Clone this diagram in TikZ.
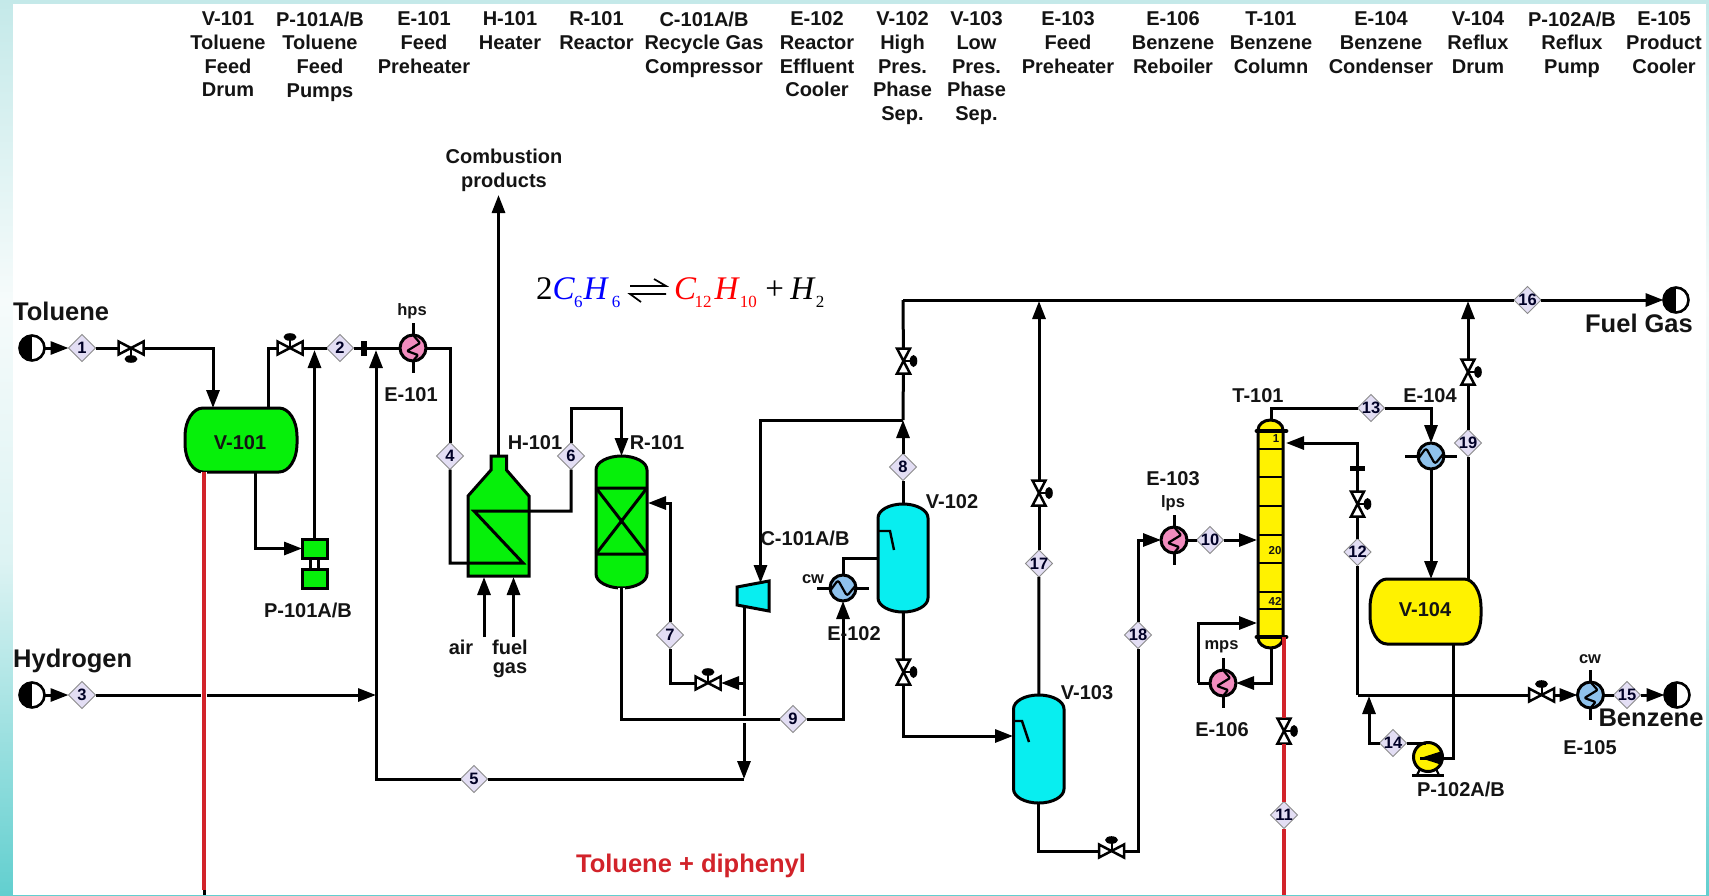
\documentclass[tikz,border=0pt]{standalone}
\usepackage{fontspec}
\setmainfont{Liberation Sans}
\newfontfamily\eqfont{Liberation Serif}
\usetikzlibrary{arrows.meta,shapes.geometric,calc}
\definecolor{txt}{HTML}{141414}
\definecolor{pgreen}{HTML}{06F00A}
\definecolor{pcyan}{HTML}{08EEF0}
\definecolor{pyellow}{HTML}{FFF200}
\definecolor{ppink}{HTML}{F28CBE}
\definecolor{pblue}{HTML}{8FC2EC}
\definecolor{hotred}{HTML}{D2232A}
\definecolor{dia}{HTML}{E3DEF4}
\definecolor{tealA}{HTML}{C4E9E9}
\definecolor{tealB}{HTML}{F6FBFB}
\definecolor{tealC}{HTML}{DDF3F3}
\definecolor{tealD}{HTML}{62CFCF}
\tikzset{
  pipe/.style={line width=3pt,line join=miter},
  flow/.style={pipe,-{Triangle[length=18pt,width=13pt]}},
  hotpipe/.style={line width=3.4pt,draw=hotred},
  equip/.style={line width=3pt,draw=black},
  hit/.style={inner sep=0pt,outer sep=0pt,rectangle},
  stream/.style={diamond,aspect=1,inner sep=0pt,outer sep=0pt,minimum width=27pt,minimum height=27pt,draw=black!45,line width=1pt,fill=dia},
  streamtxt/.style={inner sep=0pt,font=\fontsize{16.5}{16.5}\selectfont\bfseries,text=black!85!blue},
  lab/.style={inner sep=0pt,font=\fontsize{20}{23.7}\selectfont\bfseries,text=txt,align=center},
  biglab/.style={inner sep=0pt,font=\fontsize{25.5}{26}\selectfont\bfseries,text=txt},
  smalllab/.style={inner sep=0pt,font=\fontsize{16.5}{18}\selectfont\bfseries,text=txt},
  trays/.style={inner sep=0pt,font=\fontsize{11.5}{12}\selectfont\bfseries,text=txt},
  headlab/.style={lab,anchor=north},
  exch/.style={circle,inner sep=0pt,outer sep=0pt,minimum size=26pt,draw=black,line width=3pt},
  terminal/.style={circle,inner sep=0pt,outer sep=0pt,minimum size=25pt,draw=black,line width=2.6pt,fill=white,
    path picture={\fill[black] (path picture bounding box.south west) rectangle (path picture bounding box.north);}},
  wig/.style={line width=2.2pt,line join=round,rounded corners=1pt}
}
% vessel with elliptical heads: name, fill, L,T,R,B, a,b
\newcommand\PFDvessel[8]{%
 \draw[equip,fill=#2] ({#3+#7},#4) -- ({#5-#7},#4) .. controls ({#5-0.45*#7},#4) and (#5,{#4+0.45*#8}) .. (#5,{#4+#8}) -- (#5,{#6-#8}) .. controls (#5,{#6-0.45*#8}) and ({#5-0.45*#7},#6) .. ({#5-#7},#6) -- ({#3+#7},#6) .. controls ({#3+0.45*#7},#6) and (#3,{#6-0.45*#8}) .. (#3,{#6-#8}) -- (#3,{#4+#8}) .. controls (#3,{#4+0.45*#8}) and ({#3+0.45*#7},#4) .. ({#3+#7},#4) -- cycle;
 \node[hit,minimum width={(#5-#3)*1pt},minimum height={(#6-#4)*1pt}] (#1) at ({(#3+#5)/2},{(#4+#6)/2}) {};
}
% horizontal valve: name,x,y,dir (-1 actuator up, 1 actuator down)
\newcommand\PFDhvalve[4]{%
 \draw[line width=2.5pt,fill=white,line join=miter] ({#2-12.5},{#3-6.5}) -- ({#2+12.5},{#3+6.5}) -- ({#2+12.5},{#3-6.5}) -- ({#2-12.5},{#3+6.5}) -- cycle;
 \draw[line width=2pt] (#2,#3) -- (#2,{#3+#4*9});
 \fill[black] (#2,{#3+#4*11}) ellipse (6.5pt and 3.8pt);
 \node[hit,minimum width=26pt,minimum height=14pt] (#1) at (#2,#3) {};
}
% vertical valve, actuator to the right
\newcommand\PFDvvalve[3]{%
 \draw[line width=2.5pt,fill=white,line join=miter] ({#2-6.5},{#3-12.5}) -- ({#2+6.5},{#3+12.5}) -- ({#2-6.5},{#3+12.5}) -- ({#2+6.5},{#3-12.5}) -- cycle;
 \draw[line width=2pt] (#2,#3) -- ({#2+8},#3);
 \fill[black] ({#2+10},#3) ellipse (3.8pt and 6pt);
 \node[hit,minimum width=14pt,minimum height=26pt] (#1) at (#2,#3) {};
}
% exchanger with vertical stick: name,x,y,colour
\newcommand\PFDexV[4]{%
 \draw[pipe] (#2,{#3-25}) -- (#2,{#3+25});
 \node[exch,fill=#4] (#1) at (#2,#3) {};
 \draw[wig] (#2,{#3-13}) -- ({#2+7},{#3-5}) -- ({#2-6},{#3+3}) -- ({#2+5},{#3+7}) -- (#2,{#3+13});
}
% exchanger with horizontal stick
\newcommand\PFDexH[4]{%
 \draw[pipe] ({#2-26},#3) -- ({#2+26},#3);
 \node[exch,fill=#4] (#1) at (#2,#3) {};
 \draw[wig,rounded corners=2.5pt] ({#2-13},{#3+3}) -- ({#2-5},{#3-8}) -- ({#2+4},{#3+8}) -- ({#2+13},{#3-3});
}
\newcommand\PFDs[4]{%
 \node[stream] (#1) at (#2,#3) {};
 \node[streamtxt] (#1t) at (#1.center) {#4};
}
\newcommand\subd[1]{\raisebox{-8pt}{\fontsize{17}{17}\selectfont #1}}
\begin{document}
\begin{tikzpicture}[x=1pt,y=-1pt]
\useasboundingbox (0,0) rectangle (1709,895);
% page background
\shade[top color=tealA,bottom color=tealB,draw=none] (0,0) rectangle (1709,300);
\shade[top color=tealB,bottom color=tealC,draw=none] (0,300) rectangle (1709,560);
\shade[top color=tealC,bottom color=tealD,draw=none] (0,560) rectangle (1709,895);
\fill[white] (13,4) rectangle (1706,895);

% header
\node[headlab] (h1) at (228,11.5) {V-101\\Toluene\\Feed\\Drum};
\node[headlab] (h2) at (320,11.5) {P-101A/B\\Toluene\\Feed\\Pumps};
\node[headlab] (h3) at (424,11.5) {E-101\\Feed\\Preheater};
\node[headlab] (h4) at (510,11.5) {H-101\\Heater};
\node[headlab] (h5) at (596.5,11.5) {R-101\\Reactor};
\node[headlab] (h6) at (704,11.5) {C-101A/B\\Recycle Gas\\Compressor};
\node[headlab] (h7) at (817,11.5) {E-102\\Reactor\\Effluent\\Cooler};
\node[headlab] (h8) at (902.5,11.5) {V-102\\High\\Pres.\\Phase\\Sep.};
\node[headlab] (h9) at (976.5,11.5) {V-103\\Low\\Pres.\\Phase\\Sep.};
\node[headlab] (h10) at (1068,11.5) {E-103\\Feed\\Preheater};
\node[headlab] (h11) at (1173,11.5) {E-106\\Benzene\\Reboiler};
\node[headlab] (h12) at (1271,11.5) {T-101\\Benzene\\Column};
\node[headlab] (h13) at (1381,11.5) {E-104\\Benzene\\Condenser};
\node[headlab] (h14) at (1478,11.5) {V-104\\Reflux\\Drum};
\node[headlab] (h15) at (1572,11.5) {P-102A/B\\Reflux\\Pump};
\node[headlab] (h16) at (1664,11.5) {E-105\\Product\\Cooler};

% equation
\node[inner sep=0pt,anchor=base west] (eqL) at (536,299) {\eqfont\fontsize{33}{33}\selectfont 2\textcolor{blue}{\textit{C}\kern-1pt\subd{6}\kern1pt\textit{H}\kern3pt\subd{6}}};
\draw[line width=1.7pt] (630,286) -- (666,286) -- (654,279);
\draw[line width=1.7pt] (666,294) -- (630,294) -- (641,302);
\node[inner sep=0pt,anchor=base west] (eqR) at (674,299) {\eqfont\fontsize{33}{33}\selectfont\textcolor{red}{\textit{C}\kern-2pt\subd{12}\kern3pt\textit{H}\subd{10}}\kern8.5pt +\kern6.5pt\textit{H}\kern0pt\subd{2}};

% terminals and stream diamonds
\node[terminal] (src1) at (32,348) {};
\node[terminal] (src3) at (32,695) {};
\node[terminal] (snk16) at (1676,300) {};
\node[terminal] (snk15) at (1677,695) {};
\PFDs{s1}{82}{348}{1}
\PFDs{s2}{340}{348}{2}
\PFDs{s3}{82}{695}{3}
\PFDs{s4}{450}{456}{4}
\PFDs{s5}{474}{779}{5}
\PFDs{s6}{571}{456}{6}
\PFDs{s7}{670}{635}{7}
\PFDs{s8}{903}{467}{8}
\PFDs{s9}{793}{719}{9}
\PFDs{s10}{1210}{540}{10}
\PFDs{s11}{1284}{815}{11}
\PFDs{s12}{1357.5}{552}{12}
\PFDs{s13}{1371}{408}{13}
\PFDs{s14}{1393}{743}{14}
\PFDs{s15}{1627}{695}{15}
\PFDs{s16}{1527.5}{300}{16}
\PFDs{s17}{1039}{563.5}{17}
\PFDs{s18}{1138}{635}{18}
\PFDs{s19}{1468}{443}{19}

% vessels
\PFDvessel{v101}{pgreen}{185}{408}{297}{472}{18}{28}
\PFDvessel{r101}{pgreen}{596}{456}{647}{588}{25.5}{14}
\PFDvessel{v102}{pcyan}{878}{504}{928}{612}{25}{14}
\PFDvessel{v103}{pcyan}{1013.5}{695}{1064}{803}{25}{14}
\PFDvessel{v104}{pyellow}{1370}{579}{1481}{644}{17}{28}
\PFDvessel{t101}{pyellow}{1258}{420}{1283}{648}{12.5}{10}

% reactor packing
\draw[equip] (596,488) -- (647,488) (596,554) -- (647,554) (596,488) -- (647,554) (647,488) -- (596,554);
% column trays
\draw[line width=2.4pt] (1258,449) -- (1283,449) (1258,477) -- (1283,477) (1258,506) -- (1283,506) (1258,535) -- (1283,535) (1258,563) -- (1283,563) (1258,592) -- (1283,592) (1258,609) -- (1283,609);
\draw[line width=4.8pt,line cap=round] (1257,431) -- (1286,431) (1257,637) -- (1286,637);
\node[trays] (tr1) at (1276,439) {1};
\node[trays] (tr20) at (1275,551) {20};
\node[trays] (tr42) at (1275,601) {42};
% inlet baffles
\draw[line width=2.4pt] (878,531) -- (890,531) -- (894,550);
\draw[line width=2.4pt] (1013.5,721) -- (1022,721) -- (1029,742);

% heater
\draw[equip,fill=pgreen] (468,576) -- (468,496) -- (491,470) -- (491,456) -- (506.5,456) -- (506.5,470) -- (529,496) -- (529,576) -- cycle;
\node[hit,minimum width=61pt,minimum height=120pt] (h101) at (498.5,516) {};

% compressor
\draw[equip,fill=pcyan] (737,587) -- (769,581) -- (769,611) -- (737,605) -- cycle;
\node[hit,minimum width=32pt,minimum height=30pt] (c101) at (753,596) {};

% feed pumps
\draw[line width=2.2pt] (310.5,558) -- (310.5,569) (318.5,558) -- (318.5,569);
\node[hit,draw=black,line width=3pt,fill=pgreen,minimum width=25pt,minimum height=19pt] (p101a) at (314.5,548.5) {};
\node[hit,draw=black,line width=3pt,fill=pgreen,minimum width=25pt,minimum height=19pt] (p101b) at (314.5,578.5) {};

% reflux pump
\draw[line width=3pt] (1412,775) -- (1444,775);
\draw[line width=2.2pt] (1417,775) -- (1420,769) (1439,775) -- (1436,769);
\node[circle,inner sep=0pt,outer sep=0pt,minimum size=29pt,draw=black,line width=3pt,fill=pyellow] (p102) at (1428,757) {};

% exchangers
\PFDexV{e101}{413}{348}{ppink}
\PFDexH{e102}{843}{588}{pblue}
\PFDexV{e103}{1174}{540}{ppink}
\PFDexH{e104}{1431}{456}{pblue}
\PFDexV{e105}{1590.5}{695}{pblue}
\PFDexV{e106}{1223}{683}{ppink}

% valves
\PFDhvalve{va1}{131}{348}{1}
\PFDhvalve{va2}{290}{348}{-1}
\PFDhvalve{va3}{708}{683}{-1}
\PFDhvalve{va4}{1111.5}{851}{-1}
\PFDhvalve{va5}{1541.5}{695}{-1}
\PFDvvalve{vb1}{903.5}{361}
\PFDvvalve{vb2}{903.5}{672}
\PFDvvalve{vb3}{1039}{493}
\PFDvvalve{vb4}{1468}{372}
\PFDvvalve{vb5}{1357.5}{504}
\PFDvvalve{vb6}{1284}{731}

% flanges
\node[hit,fill=black,minimum width=6pt,minimum height=15pt] (fl1) at (364,348) {};
\node[hit,fill=black,minimum width=15pt,minimum height=5pt] (fl2) at (1357.5,468) {};

% connector end points
\coordinate (vin) at (213,408);
\coordinate (vout) at (268,408);
\coordinate (vlow) at (255,472);
\coordinate (j1top) at (314.5,350);
\coordinate (j2top) at (376,350);
\coordinate (j2mid) at (376,695);
\coordinate (j5) at (744,779);
\coordinate (cdis) at (744,606);
\coordinate (j7) at (744,683);
\coordinate (coilA) at (523,563);
\coordinate (coilB) at (474,511);
\coordinate (stackb) at (498.5,456);
\coordinate (stackt) at (498.5,195);
\coordinate (airb) at (484,637);
\coordinate (airt) at (484,577);
\coordinate (fuelb) at (513.5,637);
\coordinate (fuelt) at (513.5,577);
\coordinate (rtop) at (621.5,408);
\coordinate (rin) at (648,503);
\coordinate (j8) at (903,420);
\coordinate (cin) at (760.5,583);
\coordinate (j9) at (903,300);
\coordinate (v102in) at (878,558);
\coordinate (v103in) at (1013,736);
\coordinate (top17) at (1039,301);
\coordinate (top19) at (1468,301);
\coordinate (v103out) at (1038.5,803);
\coordinate (t10) at (1257,540);
\coordinate (ttop) at (1271,420);
\coordinate (tbot) at (1271.6,648);
\coordinate (v104in) at (1431,579);
\coordinate (v104top) at (1468,579);
\coordinate (v104bot) at (1453.4,644);
\coordinate (pwedge) at (1420,758);
\coordinate (ptop) at (1426,743);
\coordinate (j14) at (1369,696);
\coordinate (j12) at (1357.5,695);
\coordinate (t12) at (1286,443);
\coordinate (rb1) at (1198,683);
\coordinate (rb2) at (1257,623);
\coordinate (redT) at (1284,637);
\coordinate (redB) at (1284,895);
\coordinate (redL) at (204,472);
\coordinate (redLB) at (204,890);
\coordinate (redLE) at (204,895);

% connectors
\draw[flow] (src1) -- (s1);
\draw[pipe] (s1) -- (va1);
\draw[flow] (va1) -| (vin);
\draw[pipe] (vout) |- (va2);
\draw[pipe] (va2) -- (s2);
\draw[pipe] (s2) -- (fl1);
\draw[pipe] (fl1) -- (e101);
\draw[flow] (vlow) |- (p101a);
\draw[flow] (p101a) -- (j1top);
\draw[flow] (src3) -- (s3);
\draw[flow] (s3) -- (j2mid);
\draw[flow] (s5) -| (j2top);
\draw[flow] (cdis) -- (j5);
\draw[flow] (j7) -- (va3);
\draw[pipe] (j5) -- (s5);
\draw[pipe] (e101) -| (s4);
\draw[pipe] (s4) |- (coilA) -- (coilB) -| (s6);
\draw[flow] (s6) |- (rtop) -- (r101.north);
\draw[flow] (stackb) -- (stackt);
\draw[flow] (airb) -- (airt);
\draw[flow] (fuelb) -- (fuelt);
\draw[pipe] (va3) -| (s7);
\draw[flow] (s7) |- (rin);
\draw[pipe,preaction={draw=white,line width=7pt}] (r101.south) |- (s9);
\draw[flow] (s9) -| (e102);
\draw[pipe] (e102) |- (v102in);
\draw[pipe] (v102) -- (s8);
\draw[flow] (s8) -- (j8);
\draw[pipe] (j8) -- (vb1);
\draw[flow] (j8) -| (cin);
\draw[pipe] (vb1) -- (j9);
\draw[pipe] (j9) -- (s16);
\draw[flow] (s16) -- (snk16);
\draw[pipe] (v102) -- (vb2);
\draw[flow] (vb2) |- (v103in);
\draw[pipe] (v103) -- (s17);
\draw[pipe] (s17) -- (vb3);
\draw[flow] (vb3) -- (top17);
\draw[pipe] (v103out) |- (va4);
\draw[pipe] (va4) -| (s18);
\draw[flow] (s18) |- (e103);
\draw[pipe] (e103) -- (s10);
\draw[flow] (s10) -- (t10);
\draw[pipe] (ttop) |- (s13);
\draw[flow] (s13) -| (e104);
\draw[flow] (e104) -- (v104in);
\draw[pipe] (v104top) -- (s19);
\draw[pipe] (s19) -- (vb4);
\draw[flow] (vb4) -- (top19);
\draw[pipe] (v104bot) |- (pwedge);
\draw[-{Triangle[length=22pt,width=13pt]},line width=3pt] (1446,758) -- (pwedge);
\draw[pipe] (ptop) -- (s14);
\draw[flow] (s14) -| (j14);
\draw[pipe] (j12) -- (va5);
\draw[flow] (va5) -- (e105);
\draw[pipe] (e105) -- (s15);
\draw[flow] (s15) -- (snk15);
\draw[pipe] (j12) -- (s12);
\draw[pipe] (s12) -- (vb5);
\draw[flow] (vb5) |- (t12);
\draw[flow] (tbot) |- (e106);
\draw[pipe] (e106.west) -- (rb1);
\draw[flow] (rb1) |- (rb2);
% hot streams
\draw[hotpipe] (redT) -- (vb6);
\draw[hotpipe] (vb6) -- (s11);
\draw[hotpipe] (s11) -- (redB);
\draw[hotpipe,preaction={draw=white,line width=6pt}] (redL) -- (redLB);
\draw[line width=3pt] (redLB) -- (redLE);
\node[hit,fill=black,minimum width=15pt,minimum height=5pt] (fl2b) at (fl2) {};

% labels
\node[biglab,anchor=west] (ltol) at (13,311) {Toluene};
\node[biglab,anchor=west] (lhyd) at (13,661) {Hydrogen};
\node[biglab] (lfuel) at (1639,323) {Fuel Gas};
\node[biglab] (lben) at (1651,718) {Benzene};
\node[inner sep=0pt,font=\fontsize{25.5}{26}\selectfont\bfseries,text=hotred] (lred) at (691,865.5) {Toluene + diphenyl};
\node[lab] (lcomb) at (504,170) {Combustion\\products};
\node[lab] (lv101) at (240,443) {V-101};
\node[lab] (lp101) at (308,610) {P-101A/B};
\node[smalllab] (lhps) at (412,311) {hps};
\node[lab] (le101) at (411,395) {E-101};
\node[lab] (lh101) at (535,443) {H-101};
\node[lab] (lr101) at (657,443) {R-101};
\node[lab] (lair) at (461,647) {air};
\node[lab] (lfg) at (510,658.5) {fuel\\[-4.5pt]gas};
\node[lab] (lc101) at (805,538) {C-101A/B};
\node[smalllab] (lcw1) at (813,579) {cw};
\node[lab] (le102) at (854,634) {E-102};
\node[lab] (lv102) at (952,502) {V-102};
\node[lab] (lv103) at (1087,693) {V-103};
\node[lab] (le103) at (1173,479) {E-103};
\node[smalllab] (llps) at (1173,503) {lps};
\node[smalllab] (lmps) at (1221.5,647) {mps};
\node[lab] (le106) at (1222,730) {E-106};
\node[lab] (lt101) at (1258,396) {T-101};
\node[lab] (le104) at (1430,396) {E-104};
\node[lab] (lv104) at (1425,610) {V-104};
\node[smalllab] (lcw2) at (1590,659) {cw};
\node[lab] (le105) at (1590,748) {E-105};
\node[lab] (lp102) at (1461,789) {P-102A/B};
\end{tikzpicture}
\end{document}
